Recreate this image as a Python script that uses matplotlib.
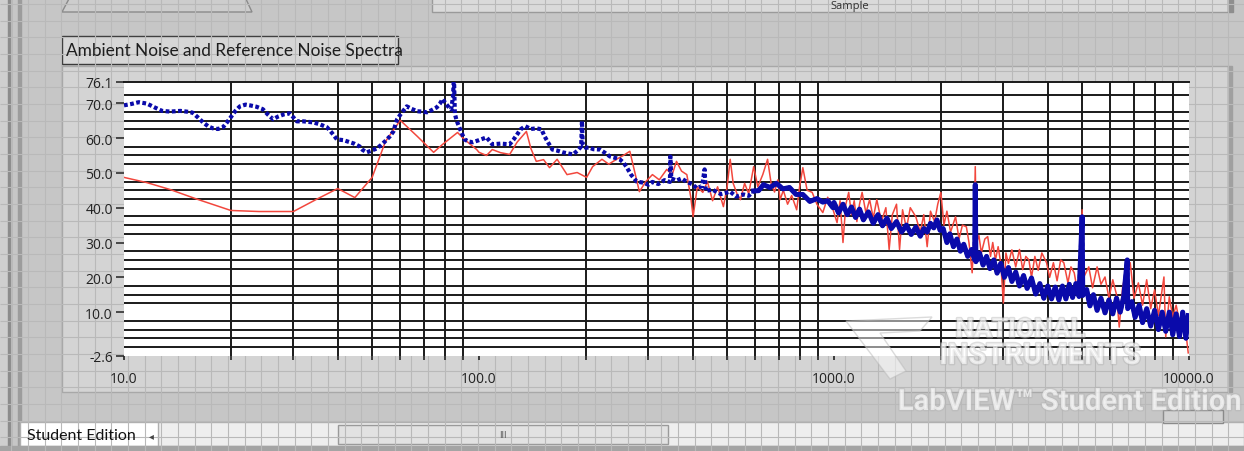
import numpy as np
import matplotlib.pyplot as plt
from matplotlib.patches import Rectangle, Polygon
from matplotlib.ticker import FixedLocator, NullFormatter
import matplotlib.patheffects as pe

# ambient noise (blue, dotted): frequency in Hz, level in dB
blue_freq = [10, 10.5, 11, 11.6, 12.2, 12.8, 13.5, 14.4, 15, 15.6, 16.2, 16.7, 17.3, 17.8,
             18.4, 19, 19.5, 20, 20.6, 21.2, 22, 22.6, 23.6, 24.6, 25.4, 26.3, 27.2, 28.2,
             29.3, 30.7, 32, 34.1, 35.5, 37.3, 38.5, 39.8, 41.5, 43.3, 44.5, 46.1, 47, 48.3,
             49.8, 51.5, 53, 54.3, 56, 57.4, 58.2, 58.8, 60.5, 62.6, 64.5, 67, 69, 71.4,
             73.5, 76, 77.5, 79, 80.5, 81.8, 83.5, 84.5, 85, 85.5, 86.5, 88.5, 91, 93.5,
             96, 100, 105, 109, 115, 122, 125, 128, 131, 135, 140, 145, 150, 153, 157,
             161, 166, 172, 178, 184, 190, 194, 195, 196, 200, 204, 210, 219, 226, 234,
             242, 249, 255, 260, 268, 278, 290, 300, 308, 320, 333, 345, 346, 348, 360,
             372, 385, 398, 411, 425, 432, 435, 454, 480, 510, 530, 556, 575, 594, 613,
             633, 660, 688, 718, 749, 782, 817, 855, 895, 930, 960, 993,
             1000, 1030, 1060, 1090, 1120, 1150, 1180, 1210, 1250, 1290, 1330, 1370, 1410,
             1450, 1500, 1550, 1600, 1650, 1700, 1750, 1790, 1830, 1870, 1910, 1950, 1990,
             2030, 2080, 2120, 2170, 2220, 2270, 2320, 2380, 2440, 2490, 2500, 2510, 2570,
             2630, 2690, 2750, 2820, 2880, 2950, 3020, 3100, 3170, 3250, 3330, 3420, 3500,
             3600, 3700, 3800, 3900, 4000, 4100, 4200, 4300, 4400, 4500, 4600, 4700, 4800,
             4900, 5000, 5020, 5150, 5260, 5380, 5510, 5650, 5800, 5950, 6100, 6250, 6400,
             6550, 6700, 6720, 6900, 7050, 7240, 7400, 7600, 7800, 8000, 8200, 8400, 8600,
             8800, 9000, 9200, 9400, 9600, 9800, 9950]
blue_db = [69.4, 69.8, 70.3, 69.9, 68.8, 67.8, 67.6, 67.8, 67.6, 67.3, 65.8, 64.5, 63.3, 62.8,
           62.6, 63.1, 64.5, 66.0, 67.8, 69.1, 69.6, 69.4, 69.0, 68.3, 66.8, 65.4, 66.2, 66.8,
           67.1, 64.8, 64.8, 64.5, 64.0, 63.1, 61.5, 59.6, 59.4, 58.8, 58.4, 57.6, 56.6, 55.9,
           56.4, 57.0, 58.0, 59.0, 60.4, 61.9, 64.0, 65.4, 67.2, 69.1, 68.4, 67.7, 67.6, 67.4,
           68.0, 68.8, 69.8, 71.2, 70.0, 69.1, 68.2, 72.0, 78.0, 67.0, 65.0, 62.5, 59.6, 59.0,
           58.8, 59.4, 60.2, 58.2, 58.4, 58.2, 59.5, 61.0, 62.5, 63.4, 62.6, 62.8, 62.5, 60.5, 58.5,
           56.7, 56.4, 55.9, 55.6, 55.3, 56.5, 57.6, 64.9, 58.0, 57.2, 57.3, 56.8, 56.7, 55.8, 54.7,
           54.3, 53.9, 53.0, 51.8, 49.5, 47.5, 47.2, 46.6, 47.4, 46.8, 47.9, 47.4, 54.7, 48.4, 47.8,
           48.4, 47.4, 46.8, 45.6, 46.2, 51.0, 44.8, 45.2, 43.9, 44.6, 43.2, 43.8, 43.4, 44.8, 44.9,
           46.6, 45.8, 47.0, 45.4, 45.8, 43.8, 43.8, 41.8, 42.6, 41.6, 42.0, 40.0,
           41.5, 38.5, 41.0, 38.0, 40.2, 37.2, 39.6, 36.5, 38.8, 35.5, 38.0, 34.8, 37.0,
           34.0, 36.0, 33.0, 35.0, 32.3, 34.4, 31.8, 34.0, 33.0, 35.5, 34.2, 36.5, 33.5,
           34.0, 30.0, 32.5, 28.8, 31.0, 27.5, 29.5, 26.0, 28.0, 25.0, 46.6, 24.5, 27.0,
           23.5, 26.0, 22.5, 25.0, 21.2, 24.0, 20.0, 22.8, 18.8, 21.5, 17.5, 20.5, 16.8,
           19.8, 15.2, 18.2, 14.0, 17.5, 13.8, 17.2, 13.5, 17.5, 13.8, 18.0, 14.2, 18.2,
           14.5, 37.4, 14.8, 16.5, 11.8, 15.0, 10.5, 14.0, 9.8, 13.5, 9.5, 14.0, 10.0,
           14.5, 25.0, 11.0, 13.0, 8.5, 12.0, 7.0, 11.0, 6.0, 10.5, 5.0, 10.0, 4.5,
           10.0, 3.5, 9.5, 3.0, 10.0, 2.5, 9.0]

# reference noise (red, thin line)
red_freq = [10, 11.6, 13.5, 16, 20, 24, 30, 35, 40, 44.7, 50, 54.5, 60, 67, 74.5, 79, 87, 91,
            98.5, 100, 105, 109, 115, 122, 128, 136, 140, 145, 152, 158, 166, 177, 189, 201,
            209, 222, 232, 244, 255, 266, 275, 283, 295, 308, 322, 338, 350, 360, 372, 385,
            395, 401, 412, 427, 440, 455, 470, 488, 500, 510, 520, 533, 545, 560, 575, 594,
            610, 630, 650, 665, 680, 695, 705, 720, 740, 760, 785, 800, 817, 840, 868, 895,
            930, 960, 990, 1020, 1040, 1060, 1080, 1100, 1120, 1140, 1160, 1180, 1200, 1230,
            1260, 1290, 1320, 1360, 1400, 1430, 1460, 1500, 1530, 1560, 1600, 1640, 1700,
            1750, 1790, 1830, 1870, 1920, 1960, 2000, 2040, 2080, 2130, 2200, 2250, 2300,
            2360, 2400, 2450, 2480, 2500, 2520, 2560, 2600, 2660, 2710, 2760, 2800, 2850,
            2900, 2950, 3000, 3050, 3100, 3170, 3250, 3330, 3400, 3470, 3540, 3600, 3680,
            3760, 3850, 3970, 4050, 4150, 4250, 4350, 4440, 4560, 4650, 4750, 4850, 4940,
            5000, 5050, 5220, 5350, 5510, 5650, 5800, 5950, 6100, 6250, 6360, 6500, 6700,
            6830, 7000, 7200, 7400, 7600, 7800, 8000, 8200, 8500, 8600, 8800, 9000, 9200,
            9500, 9700, 9950]
red_db = [48.7, 47.2, 45.2, 42.5, 39.2, 38.9, 38.9, 42.5, 45.5, 42.9, 48.7, 59.0, 65.1, 60.5,
          55.9, 58.2, 61.6, 59.6, 56.7, 55.9, 55.0, 56.7, 55.8, 55.3, 58.8, 61.9, 57.0, 53.3,
          53.8, 51.5, 53.9, 49.5, 50.1, 48.7, 51.8, 53.9, 52.5, 53.9, 55.0, 56.2, 50.0, 44.6,
          47.5, 49.5, 48.0, 51.0, 49.5, 53.3, 50.5, 49.5, 43.0, 37.4, 46.0, 44.4, 47.5, 42.0,
          46.0, 40.3, 46.0, 53.9, 47.0, 44.0, 42.3, 47.0, 44.0, 51.8, 46.0, 49.5, 53.9, 47.0,
          44.5, 48.0, 42.3, 45.0, 41.0, 43.5, 39.4, 46.0, 51.5, 45.0, 44.4, 41.0, 38.6, 43.0,
          40.0, 35.7, 42.0, 30.0, 41.0, 44.4, 38.0, 42.0, 36.0, 41.0, 44.4, 38.5, 42.3, 37.0,
          42.3, 36.0, 40.0, 28.0, 38.0, 41.0, 28.0, 39.4, 34.0, 40.0, 37.4, 33.0, 38.0, 28.8,
          39.0, 36.0, 41.0, 44.4, 35.0, 39.0, 33.0, 37.4, 31.0, 35.0, 34.5, 30.0, 21.3, 32.0,
          51.8, 30.0, 32.0, 27.0, 31.0, 31.7, 26.0, 30.0, 25.0, 28.8, 24.0, 12.6, 27.0, 24.0,
          27.9, 23.0, 28.0, 22.2, 26.0, 25.0, 20.0, 26.0, 22.0, 27.0, 24.2, 20.0, 24.2, 19.0,
          25.0, 24.2, 18.4, 23.0, 21.3, 16.0, 24.2, 39.4, 20.0, 23.0, 17.0, 23.0, 18.0, 20.1,
          14.0, 19.3, 15.0, 5.7, 17.0, 24.0, 24.2, 14.0, 18.4, 12.0, 19.3, 11.0, 16.4, 9.0,
          20.1, 2.9, 14.4, 8.6, 12.0, 4.9, 8.0, -1.7]

y_ticks = [-2.6, 10.0, 20.0, 30.0, 40.0, 50.0, 60.0, 70.0, 76.1]
x_ticks = [10, 100, 1000, 10000]
x_tick_labels = ["10.0", "100.0", "1000.0", "10000.0"]
title = "Ambient Noise and Reference Noise Spectra"

W, H = 1244, 452
FONT = "Open Sans"
MARK = "Roboto"

fig = plt.figure(figsize=(W / 100, H / 100), dpi=100)
fig.patch.set_facecolor("#c6c6c6")

# --- LabVIEW front panel background (pixel coordinates) ---
bg = fig.add_axes([0, 0, 1, 1])
bg.set_xlim(0, W)
bg.set_ylim(H, 0)
bg.axis("off")
bg.vlines(np.arange(11.3, W, 16.67), 0, H, color="#b9b9b9", lw=0.8)
bg.hlines(np.arange(5.0, H, 16.67), 0, W, color="#b9b9b9", lw=0.8)
bg.add_patch(Rectangle((0, 0), 8, H, color="#cfcfcf"))
bg.add_patch(Rectangle((8, 0), 3, H, color="#8c8c8c"))
bg.add_patch(Rectangle((18, 0), 3, H, color="#9c9c9c"))

# top tab control, cut off by the screenshot
bg.add_patch(Polygon([(62, 13), (70, -2), (245, -2), (252, 13)], closed=True,
                     facecolor="#cdcdcd", edgecolor="#8a8a8a", lw=1))
bg.add_patch(Rectangle((432, -4), 796, 17, facecolor="#dadada", edgecolor="#9a9a9a", lw=1))
bg.add_patch(Rectangle((1228, -4), 5, 17, color="#8e8e8e"))
bg.text(850, 6, "Sample", fontsize=8, family=FONT, ha="center", va="center", color="#303030")

# graph frame and caption
bg.add_patch(Rectangle((62, 67), 1166, 326, facecolor="#d4d4d4", edgecolor="#a8a8a8", lw=1))
bg.add_patch(Rectangle((1228, 67), 4, 326, color="#a0a0a0"))
bg.add_patch(Rectangle((62, 37), 336, 28, facecolor="#d6d6d6", edgecolor="#3a3a3a", lw=1))
bg.text(66, 51, title, fontsize=12.4, family="Lato", ha="left", va="center", color="#1e1e1e")

# bottom scroll bar
bg.add_patch(Rectangle((20, 423), W - 20, 24, facecolor="#eeeeee", edgecolor="#b0b0b0", lw=1))
bg.add_patch(Rectangle((20, 423), 138, 24, facecolor="#ffffff", edgecolor="#b0b0b0", lw=1))
bg.add_patch(Rectangle((0, 447), W, 5, color="#a4a4a4"))
bg.text(27, 436, "Student Edition", fontsize=11.5, family="Lato", ha="left", va="center", color="#111111")
bg.text(151, 436, "\u25c2", fontsize=7, family="DejaVu Sans", ha="center", va="center", color="#444444")
bg.add_patch(Rectangle((338, 426), 330, 19, facecolor="#e2e2e2", edgecolor="#9a9a9a", lw=1))
bg.text(503, 435.5, "III", fontsize=6, family="DejaVu Sans", ha="center", va="center", color="#555555")
bg.add_patch(Rectangle((1163, 411), 60, 13, facecolor="#d2d2d2", edgecolor="#8a8a8a", lw=1))

# --- the graph itself ---
x0, x1, y0, y1 = 124, 1189, 83, 357
ax = fig.add_axes([x0 / W, 1 - y1 / H, (x1 - x0) / W, (y1 - y0) / H])
ax.set_facecolor("white")
ax.plot(red_freq, red_db, color="#f2473d", lw=1.1, zorder=3)
# above ~600 Hz the ambient trace is so dense that it reads as a solid band
dense = next(i for i, f in enumerate(blue_freq) if f >= 594)
ax.plot(blue_freq[dense:], blue_db[dense:], color="#0a0aaa", lw=3.6, zorder=4)
ax.plot(blue_freq, blue_db, color="#0a0aaa", lw=3.0, linestyle=(0, (0.9, 0.6)), zorder=4)

ax.set_xscale("log")
ax.set_xlim(10, 10000)
ax.set_ylim(-2.6, 76.1)

ax.set_xticks(x_ticks)
ax.set_xticklabels(x_tick_labels)
minor_x = [m * d for d in (10, 100, 1000) for m in range(2, 11)]
ax.xaxis.set_minor_locator(FixedLocator(minor_x))
ax.xaxis.set_minor_formatter(NullFormatter())
ax.set_yticks(y_ticks)
ax.set_yticklabels([f"{v:.1f}" for v in y_ticks])
ax.yaxis.set_minor_locator(FixedLocator(np.arange(0, 75, 2.5)))

ax.grid(False, which="major")
ax.grid(True, which="minor", color="#1a1a1a", lw=1.4)
ax.set_axisbelow(True)

ax.tick_params(axis="y", which="major", length=6, width=1.1, pad=2, colors="#222222",
               labelsize=10)
ax.tick_params(axis="y", which="minor", length=0)
ax.tick_params(axis="x", which="both", length=3, width=1.2, pad=8, colors="#222222",
               labelsize=10)
for lab in ax.get_xticklabels() + ax.get_yticklabels():
    lab.set_family(FONT)

for side in ("left", "right", "bottom"):
    ax.spines[side].set_visible(False)
ax.spines["top"].set_color("#1a1a1a")
ax.spines["top"].set_linewidth(1.4)

# --- Student Edition watermark on top ---
ov = fig.add_axes([0, 0, 1, 1], facecolor="none")
ov.set_xlim(0, W)
ov.set_ylim(H, 0)
ov.axis("off")
ghost = [pe.withStroke(linewidth=2, foreground="#b4b4b4", alpha=0.45)]
ov.add_patch(Polygon([(846, 322), (932, 318), (920, 332), (880, 334), (906, 372), (890, 380)],
                     closed=True, facecolor="white", edgecolor="#b8b8b8", alpha=0.5, lw=1))
ov.text(1020, 331, "NATIONAL", fontsize=19, family=MARK, weight="bold",
        ha="center", va="center", color="white", alpha=0.55, path_effects=ghost)
ov.text(1040, 357, "INSTRUMENTS", fontsize=21, family=MARK, weight="bold",
        ha="center", va="center", color="white", alpha=0.55, path_effects=ghost)
ov.text(1241, 403, "LabVIEW\u2122 Student Edition", fontsize=21, family=MARK,
        weight="bold", ha="right", va="center", color="white", alpha=0.55, path_effects=ghost)

fig.savefig("out.png", dpi=100, facecolor=fig.get_facecolor())
